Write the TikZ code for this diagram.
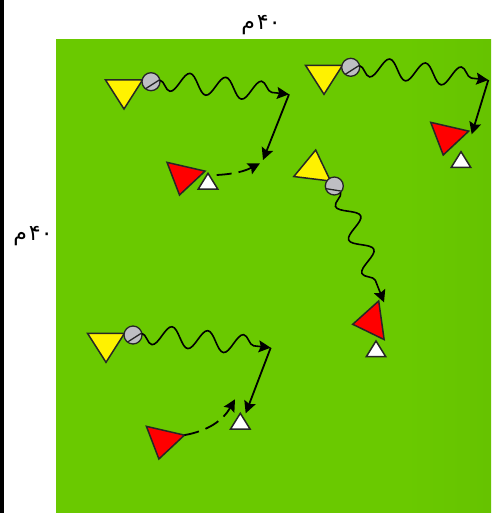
\documentclass[tikz,border=0pt]{standalone}
\usepackage{fontspec}
\newfontfamily\arabicfont[Script=Arabic]{DejaVu Sans}
\TeXXeTstate=1
\usetikzlibrary{arrows.meta,decorations.pathmorphing,shapes.geometric}
\definecolor{ballgray}{RGB}{190,190,195}
\pgfdeclarehorizontalshading{pitch}{100bp}{rgb(0bp)=(0.415,0.79,0); rgb(65bp)=(0.415,0.79,0); rgb(100bp)=(0.36,0.70,0)}
\tikzset{
	player/.style={draw=black!85, line width=1.5pt, isosceles triangle, isosceles triangle stretches, inner sep=0pt, outer sep=0pt, anchor=apex, minimum height=29pt, minimum width=37pt},
	attacker/.style={player, fill=yellow},
	defender/.style={player, fill=red, minimum width=39pt},
	cone/.style={player, fill=white, minimum height=15.7pt, minimum width=19.5pt},
	ball/.style={circle, draw=black!85, fill=ballgray, line width=1.3pt, inner sep=0pt, outer sep=0pt, minimum size=18pt},
	slash/.style={draw=black!85, line width=1.3pt},
	dribble/.style={->, line width=1.6pt, decorate, decoration={snake, mirror, amplitude=10pt, segment length=36pt, post=lineto, post length=9pt}},
	pass/.style={->, line width=1.8pt},
	run/.style={->, line width=1.8pt, dash pattern=on 15pt off 7pt},
	sizelabel/.style={font=\fontsize{22}{22}\selectfont\arabicfont}
}
\begin{document}
\begin{tikzpicture}[x=1pt, y=-1pt, >={Stealth[length=12pt,width=12pt,inset=2pt]}]
	\useasboundingbox (0,0) rectangle (491,513);
	% 背景
	\fill[white] (0,0) rectangle (491,513);
	\fill[black] (0,0) rectangle (4,513);
	\shade[shading=pitch] (56,40) rectangle (491,513);

	% 标注
	\node[sizelabel] (toplabel) at (261,25) {\beginR\beginL ۴۰\endL\hspace{2pt}م\endR};
	\node[sizelabel] (sidelabel) at (33,236) {\beginR\beginL ۴۰\endL\hspace{2pt}م\endR};

	% 左上
	\node[attacker, rotate=-90] (att1) at (124,109) {};
	\node[ball] (ball1) at (151,81.7) {};
	\draw[slash] (ball1.232) -- (ball1.13);
	\node[defender, rotate=-103] (def1) at (179.5,195) {};
	\node[cone, rotate=90] (cone1) at (208,173.3) {};
	\coordinate (turn1) at (289,94.3);
	\coordinate (end1) at (263,160);
	\coordinate (from1) at (216.7,175);
	\coordinate (to1) at (260,163.3);
	\draw[dribble] (ball1.10) -- (turn1);
	\draw[pass] (turn1) -- (end1);
	\draw[run] (from1) to[bend right=12] (to1);

	% 右上
	\node[attacker, rotate=-90] (att2) at (324,94.3) {};
	\node[ball] (ball2) at (350.7,67.3) {};
	\draw[slash] (ball2.232) -- (ball2.13);
	\node[defender, rotate=-103] (def2) at (443.2,155) {};
	\node[cone, rotate=90] (cone2) at (461,151.7) {};
	\coordinate (turn2) at (488.3,80);
	\coordinate (end2) at (471.7,134.3);
	\draw[dribble] (ball2.10) -- (turn2);
	\draw[pass] (turn2) -- (end2);

	% 中间
	\node[attacker, rotate=83] (att3) at (315.7,150) {};
	\node[ball] (ball3) at (334.3,186) {};
	\draw[slash] (ball3.197) -- (ball3.325);
	\node[defender, rotate=188] (def3) at (352.7,324.3) {};
	\node[cone, rotate=90] (cone3) at (376,341) {};
	\coordinate (turn3) at (384,302.3);
	\draw[dribble] (ball3.-45) -- (turn3);

	% 左下
	\node[attacker, rotate=-90] (att4) at (106,362.3) {};
	\node[ball] (ball4) at (133,335) {};
	\draw[slash] (ball4.232) -- (ball4.13);
	\node[defender, rotate=-103] (def4) at (158.9,459) {};
	\node[cone, rotate=90] (cone4) at (240.3,413.3) {};
	\coordinate (turn4) at (270.7,347.7);
	\coordinate (end4) at (245.7,413.3);
	\coordinate (to4) at (235,399.3);
	\draw[dribble] (ball4.10) -- (turn4);
	\draw[pass] (turn4) -- (end4);
	\draw[run] (def4.left corner) to[bend right=25] (to4);
\end{tikzpicture}
\end{document}
